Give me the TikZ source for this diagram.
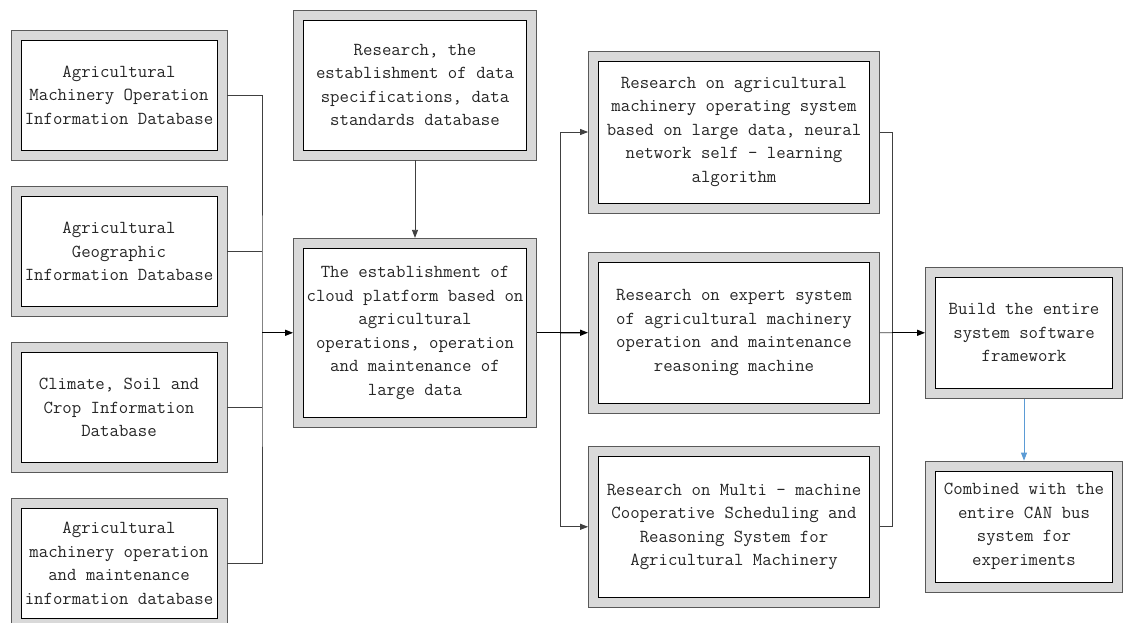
\documentclass[tikz,border=0pt]{standalone}
\usepackage{fontspec}
\newfontfamily\boxfont{Latin Modern Mono}
\usetikzlibrary{arrows.meta,calc}
\definecolor{bandgray}{HTML}{D9D9D9}
\definecolor{edgegray}{HTML}{595959}
\definecolor{linegray}{HTML}{404040}
\definecolor{flowblue}{HTML}{5B9BD5}
\tikzset{
  dbox/.style={draw=edgegray, line width=0.8pt, fill=bandgray, inner sep=0pt, align=center,
    font={\boxfont\fontsize{18.3}{23.5}\selectfont}, text=black!85,
    path picture={\draw[line width=0.8pt, draw=black, fill=white]
      ([shift={(10pt,-10pt)}]path picture bounding box.north west) rectangle
      ([shift={(-10pt,10pt)}]path picture bounding box.south east);}},
  thinline/.style={draw=linegray, line width=0.8pt},
  mainline/.style={draw=black, line width=1.3pt},
  tip/.style={-{Triangle[length=8pt,width=6pt]}}
}
\begin{document}
\begin{tikzpicture}[x=1pt,y=-1pt]
\useasboundingbox (0,0) rectangle (1124,623);

\node[dbox, minimum width=216pt, minimum height=130pt] (L1) at (119, 95) {Agricultural\\Machinery Operation\\Information Database};
\node[dbox, minimum width=216pt, minimum height=130pt] (L2) at (119, 251.6) {Agricultural\\Geographic\\Information Database};
\node[dbox, minimum width=216pt, minimum height=130pt] (L3) at (119, 407.5) {Climate, Soil and\\Crop Information\\Database};
\node[dbox, minimum width=216pt, minimum height=130pt] (L4) at (119, 563.5) {Agricultural\\machinery operation\\and maintenance\\information database};

\node[dbox, minimum width=243pt, minimum height=150pt] (T) at (415, 85) {Research, the\\establishment of data\\specifications, data\\standards database};
\node[dbox, minimum width=243pt, minimum height=189pt] (C) at (415, 332.8) {The establishment of\\cloud platform based on\\agricultural\\operations, operation\\and maintenance of\\large data};

\node[dbox, minimum width=291pt, minimum height=162pt] (R1) at (734, 132) {Research on agricultural\\machinery operating system\\based on large data, neural\\network self - learning\\algorithm};
\node[dbox, minimum width=291pt, minimum height=161pt] (R2) at (734, 332.7) {Research on expert system\\of agricultural machinery\\operation and maintenance\\reasoning machine};
\node[dbox, minimum width=291pt, minimum height=161pt] (R3) at (734, 526.8) {Research on Multi - machine\\Cooperative Scheduling and\\Reasoning System for\\Agricultural Machinery};

\node[dbox, minimum width=197pt, minimum height=131pt] (F) at (1024, 332.8) {Build the entire\\system software\\framework};
\node[dbox, minimum width=197pt, minimum height=131pt] (G) at (1024, 526.5) {Combined with the\\entire CAN bus\\system for\\experiments};

\coordinate[] (J1) at (262, 332.8);
\coordinate[] (J2) at (560, 332.8);
\coordinate[] (J3) at (892, 332.8);

\draw [thinline] (L1.east) -| (J1) |- (L4.east);
\draw [thinline] (L2.east) -- (L2.east -| J1);
\draw [thinline] (L3.east) -- (L3.east -| J1);
\draw [mainline, tip] (J1) -- (C.west);

\draw [thinline, tip] (T.south) -- (C.north);

\draw [mainline] (C.east) -- (J2);
\draw [thinline, tip] (J2) |- (R1.west);
\draw [thinline, tip] (J2) |- (R3.west);
\draw [mainline, tip] (J2) -- (R2.west);

\draw [thinline] (R1.east) -| (J3) |- (R3.east);
\draw [thinline] (R2.east) -- (J3);
\draw [mainline, tip] (J3) -- (F.west);

\draw [draw=flowblue, line width=0.8pt, tip] (F.south) -- (G.north);

\end{tikzpicture}
\end{document}
